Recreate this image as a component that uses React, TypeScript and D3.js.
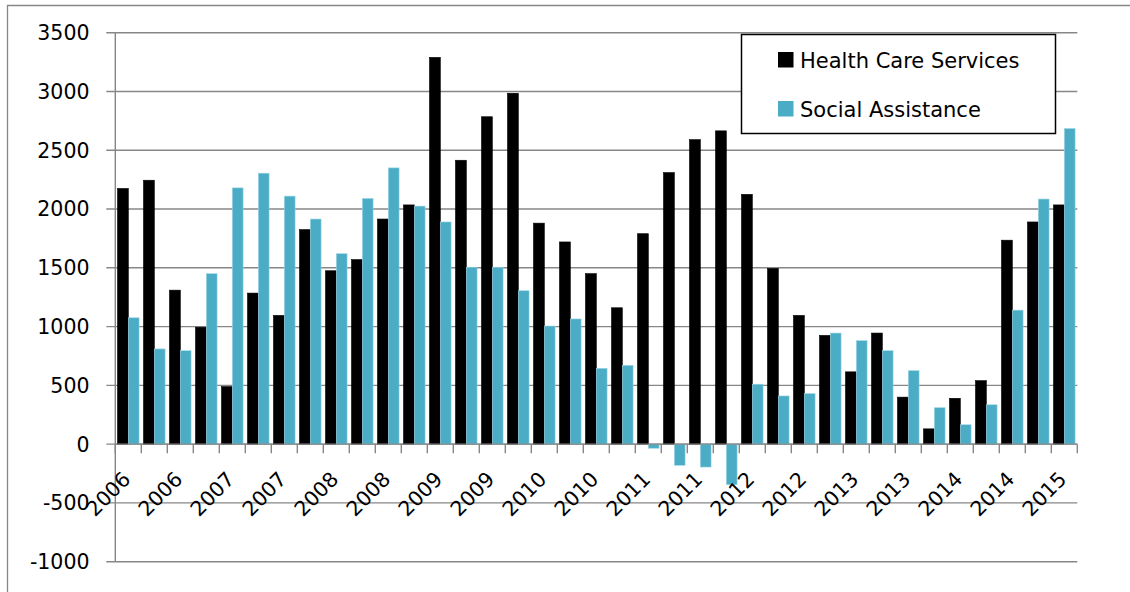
import React from "react";
import * as d3 from "d3";

// one label for every second bar pair
const periods = [
  "2006", "2006", "2006", "2006", "2007", "2007", "2007", "2007", "2008", "2008",
  "2008", "2008", "2009", "2009", "2009", "2009", "2010", "2010", "2010", "2010",
  "2011", "2011", "2011", "2011", "2012", "2012", "2012", "2012", "2013", "2013",
  "2013", "2013", "2014", "2014", "2014", "2014", "2015",
];

const healthCare = [
  2175, 2245, 1310, 995, 490, 1285, 1095, 1825, 1475, 1570,
  1915, 2035, 3290, 2415, 2785, 2985, 1880, 1720, 1450, 1160,
  1790, 2310, 2590, 2665, 2125, 1495, 1095, 925, 615, 945,
  400, 130, 390, 540, 1735, 1890, 2035,
];

const socialAssistance = [
  1075, 810, 795, 1450, 2180, 2305, 2110, 1915, 1620, 2090,
  2350, 2025, 1890, 1505, 1505, 1305, 1005, 1065, 645, 670,
  -35, -180, -195, -345, 510, 410, 430, 945, 880, 795,
  625, 310, 165, 335, 1140, 2085, 2685,
];

const seriesNames = ["Health Care Services", "Social Assistance"];
const seriesColors = ["#000000", "#4BACC6"];
const yTicks = [-1000, -500, 0, 500, 1000, 1500, 2000, 2500, 3000, 3500];

const W = 1130;
const H = 592;
const margin = { left: 115.3, right: 1077.3, top: 32.7, bottom: 561.7 };
const font = "'DejaVu Sans', sans-serif";
const grid = "#878787";

export default function App() {
  const idx = periods.map((_, i) => i);
  const x0 = d3
    .scaleBand<number>()
    .domain(idx)
    .range([margin.left, margin.right])
    .paddingInner(0.17)
    .paddingOuter(0.085);
  const x1 = d3.scaleBand<number>().domain([0, 1]).range([0, x0.bandwidth()]);
  const y = d3.scaleLinear().domain([-1000, 3500]).range([margin.bottom, margin.top]);

  const step = (margin.right - margin.left) / periods.length;
  const boundaries = d3.range(periods.length + 1).map((i) => margin.left + i * step);
  const y0 = y(0);

  const series = [healthCare, socialAssistance];

  return (
    <svg
      width={W}
      height={H}
      style={{ position: "absolute", left: 0, top: 0, background: "#fff" }}
    >
      <rect x={0} y={0} width={W} height={H} fill="#fff" />
      {/* outer chart frame */}
      <path d={`M7.5,${H + 5}V5.5H${W + 5}`} fill="none" stroke={grid} strokeWidth={1.3} />

      {/* gridlines + y ticks */}
      {yTicks.map((t) => (
        <g key={t}>
          <line
            x1={margin.left - 9}
            x2={margin.right}
            y1={y(t)}
            y2={y(t)}
            stroke={grid}
            strokeWidth={1.4}
          />
          <text
            x={89.5}
            y={y(t)}
            dy="0.36em"
            textAnchor="end"
            fontFamily={font}
            fontSize={20.5}
            fill="#000"
          >
            {t}
          </text>
        </g>
      ))}
      <line x1={margin.left} x2={margin.left} y1={margin.top} y2={margin.bottom} stroke={grid} strokeWidth={1.4} />

      {/* bars */}
      {series.map((vals, s) =>
        vals.map((v, i) => {
          const bx = (x0(i) ?? 0) + (x1(s) ?? 0);
          const top = Math.min(y(v), y0);
          const h = Math.abs(y(v) - y0);
          return (
            <rect
              key={`${s}-${i}`}
              x={bx}
              y={top}
              width={x1.bandwidth()}
              height={h}
              fill={seriesColors[s]}
              stroke={s === 0 ? "#000" : "#9fd6e4"}
              strokeWidth={0.6}
            />
          );
        })
      )}

      {/* category axis at zero */}
      <line x1={margin.left} x2={margin.right} y1={y0} y2={y0} stroke={grid} strokeWidth={1.4} />
      {boundaries.map((bx, i) => (
        <line key={i} x1={bx} x2={bx} y1={y0} y2={y0 + 9} stroke={grid} strokeWidth={1.4} />
      ))}
      {periods.map((p, i) =>
        i % 2 === 0 ? (
          <text
            key={i}
            transform={`translate(${(x0(i) ?? 0) + x0.bandwidth() / 2 + 3.5},${y0 + 36.5}) rotate(-45)`}
            textAnchor="end"
            fontFamily={font}
            fontSize={20.5}
            fill="#000"
          >
            {p}
          </text>
        ) : null
      )}

      {/* legend */}
      <rect x={741.5} y={34.5} width={314} height={99} fill="#fff" stroke="#000" strokeWidth={1.5} />
      {seriesNames.map((n, i) => (
        <g key={n} transform={`translate(778,${52 + i * 49})`}>
          <rect x={0} y={0} width={15.5} height={15.5} fill={seriesColors[i]} />
          <text x={22} y={15.5} fontFamily={font} fontSize={21} fill="#000">
            {n}
          </text>
        </g>
      ))}
    </svg>
  );
}
